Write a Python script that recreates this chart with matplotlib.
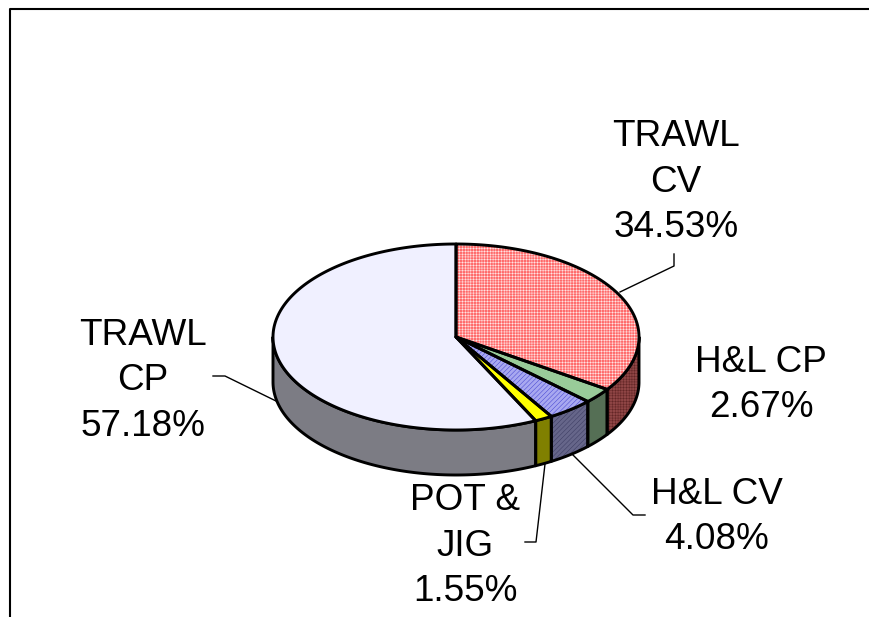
import matplotlib
matplotlib.use('Agg')
import matplotlib.pyplot as plt
from matplotlib.patches import Polygon
import numpy as np

plt.rcParams['font.family'] = ['Liberation Sans', 'DejaVu Sans']
plt.rcParams['hatch.linewidth'] = 0.3

names = ['TRAWL\nCV', 'H&L CP', 'H&L CV', 'POT &\nJIG', 'TRAWL\nCP']
shares = [34.53, 2.67, 4.08, 1.55, 57.18]
top_colors = ['#FF6A6A', '#99CC99', '#A8A8F0', '#FFFF00', '#F0F0FF']
side_colors = ['#8F4545', '#556F55', '#66668A', '#808000', '#7C7C84']
hatches = ['++++++', None, '///////', None, None]
hatch_colors = ['#FFFFFF', None, '#3333CC', None, None]
side_hatch_colors = ['#5A2020', None, '#33335A', None, None]
label_pos = [(676, 182), (761, 385), (717, 517), (465, 546), (143, 381)]
leaders = [[(620, 292), (674, 266), (674, 254)],
           None,
           [(573, 455), (633, 515), (645, 515)],
           [(545, 464), (536, 542), (525, 542)],
           [(276, 401), (225, 376), (213, 376)]]

cx, cy = 456, 337
rx, ry = 183, 93
depth = 45

fig = plt.figure(figsize=(8.69, 6.17), dpi=100)
ax = fig.add_axes([0, 0, 1, 1])
ax.set_xlim(0, 869)
ax.set_ylim(617, 0)
ax.axis('off')

# frame, cropped at right and bottom
ax.plot([10, 10, 869], [617, 9, 9], color='black', lw=1.5)


def arc(a, b):
    t = np.radians(np.linspace(a, b, 200))
    return np.column_stack([cx + rx * np.cos(t), cy - ry * np.sin(t)])


edges = 90 - np.cumsum([0] + shares) * 3.6

# side walls first
for i in range(len(shares)):
    a, b = edges[i], edges[i + 1]
    # only the front half of the rim shows
    if a > 0 and b < 0:
        part = (0, b)
    elif b >= -180:
        part = (a, b)
    else:
        part = (a, -180)
    top = arc(*part)
    low = top[::-1] + [0, depth]
    pts = np.vstack([top, low])
    ax.add_patch(Polygon(pts, closed=True, fc=side_colors[i], ec='none', zorder=2))
    if hatches[i]:
        ax.add_patch(Polygon(pts, closed=True, fill=False, ec=side_hatch_colors[i],
                             hatch=hatches[i], lw=0, zorder=2.1))
    ax.add_patch(Polygon(pts, closed=True, fill=False, ec='black', lw=2.1,
                         joinstyle='round', zorder=2.2))

# top faces
for i in range(len(shares)):
    pts = np.vstack([[cx, cy], arc(edges[i], edges[i + 1])])
    ax.add_patch(Polygon(pts, closed=True, fc=top_colors[i], ec='none', zorder=3))
    if hatches[i]:
        ax.add_patch(Polygon(pts, closed=True, fill=False, ec=hatch_colors[i],
                             hatch=hatches[i], lw=0, zorder=3.1))
    ax.add_patch(Polygon(pts, closed=True, fill=False, ec='black', lw=2.1,
                         joinstyle='round', zorder=3.2))

for seg in leaders:
    if seg:
        xs, ys = zip(*seg)
        ax.plot(xs, ys, color='black', lw=1.0, zorder=1.5)

for name, val, (x, y) in zip(names, shares, label_pos):
    ax.text(x, y, f'{name}\n{val:.2f}%', ha='center', va='center', fontsize=26.6,
            color='black', linespacing=1.39, zorder=5)

fig.savefig('out.png', dpi=100)
